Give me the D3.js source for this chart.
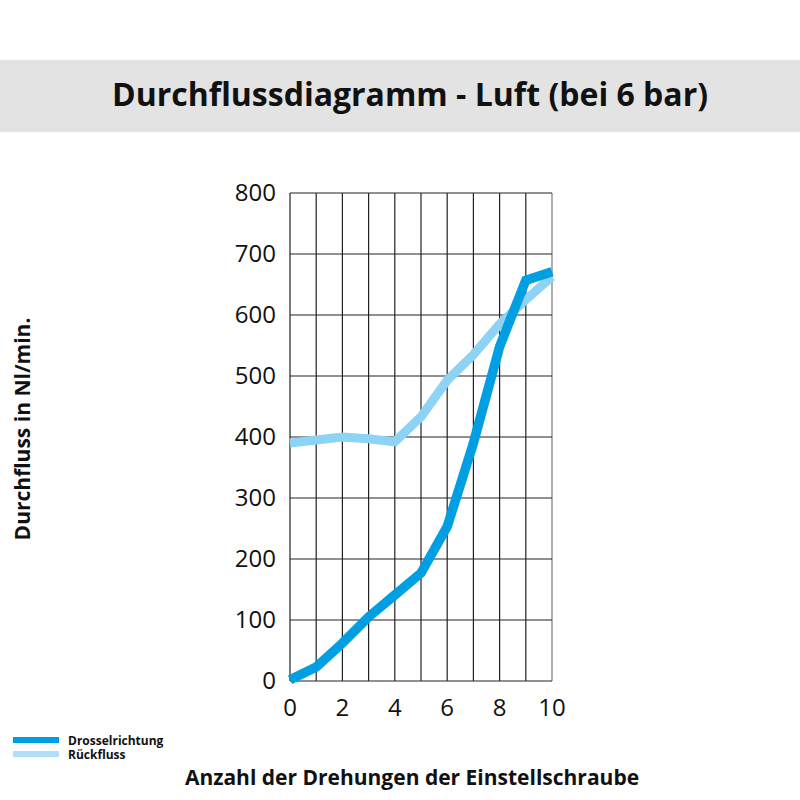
<!DOCTYPE html>
<html>
  <head>
    <meta charset="utf-8">
    <title>Durchflussdiagramm</title>
    <style>
      body { margin: 0; background: #fff; }
      .grid line { stroke: #222; stroke-width: 1.2; }
      .tick-label { font-family: "Open Sans", sans-serif; font-size: 24px; fill: #111; }
      .axis-title { font-family: "Open Sans", sans-serif; font-weight: bold; font-size: 21px; fill: #111; }
      .legend-label { font-family: "Open Sans", sans-serif; font-weight: bold; font-size: 12px; fill: #111; }
    </style>
  </head>
  <body>
    <script src="https://d3js.org/d3.v7.min.js"></script>
    <script>
      const turns = [0, 1, 2, 3, 4, 5, 6, 7, 8, 9, 10];
      const drossel = [2, 23, 62, 105, 141, 177, 253, 390, 548, 657, 671];
      const rueck = [390, 395, 400, 397, 392, 433, 493, 535, 585, 625, 663];
      const xTicks = [0, 2, 4, 6, 8, 10];
      const yTicks = [0, 100, 200, 300, 400, 500, 600, 700, 800];

      const width = 800;
      const height = 800;

      const svg = d3.select("body")
        .append("svg")
        .attr("width", width)
        .attr("height", height);

      // title band
      svg.append("rect")
        .attr("x", 0).attr("y", 60)
        .attr("width", width).attr("height", 72)
        .attr("fill", "#e3e3e3");
      svg.append("text")
        .attr("x", 410).attr("y", 106)
        .attr("text-anchor", "middle")
        .style("font-family", "'Open Sans', sans-serif")
        .style("font-weight", "bold")
        .style("font-size", "32px")
        .style("fill", "#111")
        .text("Durchflussdiagramm - Luft (bei 6 bar)");

      const x = d3.scaleLinear().domain([0, 10]).range([290, 552]);
      const y = d3.scaleLinear().domain([0, 800]).range([681, 193]);

      const grid = svg.append("g").attr("class", "grid");
      grid.selectAll(".v")
        .data(turns)
        .enter()
        .append("line")
        .attr("x1", d => x(d)).attr("x2", d => x(d))
        .attr("y1", y(0)).attr("y2", y(800))
        .style("stroke", d => d === 10 ? "#777" : null);
      grid.selectAll(".h")
        .data(yTicks)
        .enter()
        .append("line")
        .attr("x1", x(0)).attr("x2", x(10))
        .attr("y1", d => y(d)).attr("y2", d => y(d));

      svg.selectAll(".ylab")
        .data(yTicks)
        .enter()
        .append("text")
        .attr("class", "tick-label")
        .attr("x", 276)
        .attr("y", d => y(d) + 8)
        .attr("text-anchor", "end")
        .text(d => d);

      svg.selectAll(".xlab")
        .data(xTicks)
        .enter()
        .append("text")
        .attr("class", "tick-label")
        .attr("x", d => x(d))
        .attr("y", 716)
        .attr("text-anchor", "middle")
        .text(d => d);

      const line = d3.line()
        .x((d, i) => x(turns[i]))
        .y(d => y(d));

      svg.append("path")
        .datum(rueck)
        .attr("d", line)
        .attr("fill", "none")
        .attr("stroke", "#8cd3f6")
        .attr("stroke-width", 9);

      svg.append("path")
        .datum(drossel)
        .attr("d", line)
        .attr("fill", "none")
        .attr("stroke", "#009fe3")
        .attr("stroke-width", 9.5);

      // axis titles
      svg.append("text")
        .attr("class", "axis-title")
        .attr("transform", "translate(30,429) rotate(-90)")
        .attr("text-anchor", "middle")
        .text("Durchfluss in Nl/min.");
      svg.append("text")
        .attr("class", "axis-title")
        .attr("x", 412).attr("y", 785)
        .attr("text-anchor", "middle")
        .text("Anzahl der Drehungen der Einstellschraube");

      // legend
      const legend = [
        { name: "Drosselrichtung", color: "#009fe3" },
        { name: "Rückfluss", color: "#b3e0f8" }
      ];
      const lg = svg.selectAll(".legend")
        .data(legend)
        .enter()
        .append("g")
        .attr("transform", (d, i) => `translate(13,${737 + i * 14})`);
      lg.append("rect")
        .attr("width", 46).attr("height", 6)
        .attr("fill", d => d.color);
      lg.append("text")
        .attr("class", "legend-label")
        .attr("x", 55).attr("y", 8)
        .text(d => d.name);
    </script>
  </body>
</html>
